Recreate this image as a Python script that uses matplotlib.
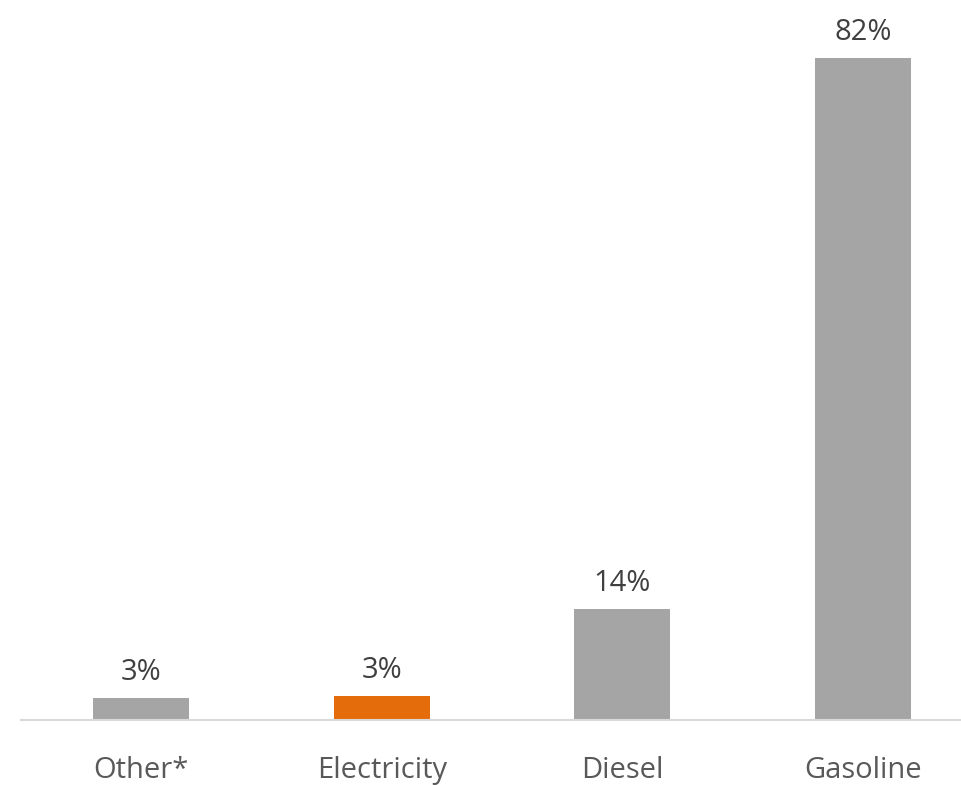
import matplotlib
matplotlib.use("Agg")
import matplotlib.pyplot as plt

# Данні
categories = ["Other*", "Electricity", "Diesel", "Gasoline"]
shares = [2.76, 2.97, 13.8, 82.0]
bar_colors = ["#A5A5A5", "#E46C0A", "#A5A5A5", "#A5A5A5"]

plt.rcParams["font.family"] = ["Open Sans", "DejaVu Sans"]

fig = plt.figure(figsize=(9.61, 7.85), dpi=100)
ax = fig.add_axes([21 / 961, 65 / 785, 940 / 961, 686 / 785])

x = range(len(categories))
bars = ax.bar(x, shares, width=0.4, color=bar_colors)

# Підписи значень над стовпцями
for rect, v in zip(bars, shares):
    ax.annotate(f"{v:.0f}%", (rect.get_x() + rect.get_width() / 2, rect.get_height()),
                textcoords="offset points", xytext=(0, 8), ha="center", va="bottom",
                fontsize=21, color="#404040")

ax.set_xlim(-0.5, -0.5 + 940 / 240.5)
ax.set_ylim(0, 85)
ax.set_xticks(list(x))
ax.set_xticklabels(categories, fontsize=21, color="#595959")
ax.tick_params(axis="x", length=0, pad=26)
ax.set_yticks([])
for side in ["top", "left", "right"]:
    ax.spines[side].set_visible(False)
ax.spines["bottom"].set_color("#D9D9D9")
ax.spines["bottom"].set_linewidth(1.5)

fig.savefig("out.png", dpi=100)
